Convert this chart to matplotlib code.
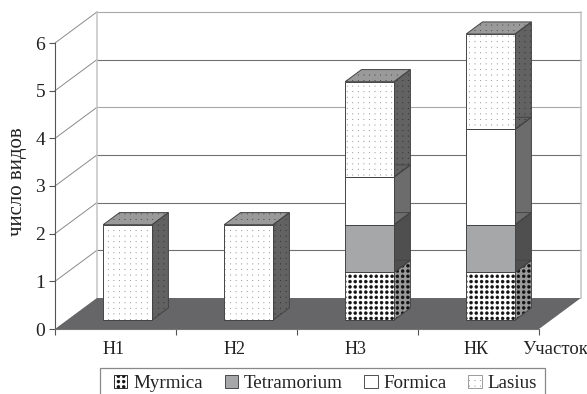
import matplotlib
matplotlib.use("Agg")
import numpy as np
import matplotlib.pyplot as plt
import matplotlib.hatch as mhatch
from matplotlib.patches import Patch, Polygon, Rectangle
from matplotlib.path import Path

plt.rcParams["font.family"] = ["Liberation Serif", "DejaVu Serif"]
plt.rcParams["hatch.linewidth"] = 0.3

sites = ["Н1", "Н2", "Н3", "НК"]
genera = ["Myrmica", "Tetramorium", "Formica", "Lasius"]
myrmica = [0, 0, 1, 1]
tetramorium = [0, 0, 1, 1]
formica = [0, 0, 1, 2]
lasius = [2, 2, 2, 2]
counts = [myrmica, tetramorium, formica, lasius]


# square grid of round dots, the stock circle hatches are staggered
class DotGrid(mhatch.HatchPatternBase):
    char = "."
    rows = 18
    radius = 0.003

    def __init__(self, hatch, density):
        self.on = self.char in (hatch or "")
        circle = Path.unit_circle()
        self.circle = circle
        self.num_vertices = self.rows ** 2 * len(circle.vertices) if self.on else 0

    def set_vertices_and_codes(self, vertices, codes):
        n = len(self.circle.vertices)
        pos = 0
        for r in range(self.rows):
            for c in range(self.rows):
                centre = (np.array([c, r]) + 0.5) / self.rows
                vertices[pos:pos + n] = self.circle.vertices * self.radius + centre
                codes[pos:pos + n] = self.circle.codes
                pos += n


class BigDotGrid(DotGrid):
    char = "O"
    rows = 19
    radius = 0.015


mhatch._hatch_types[:] = [DotGrid, BigDotGrid]

# front, side, top colours, hatch and hatch colours (front, side, top) for each genus
styles = {
    "Myrmica": ("#ffffff", "#9a9a9a", "#ffffff", "O", ("#111111", "#111111", "#111111")),
    "Tetramorium": ("#a6a7a9", "#4f4f4f", "#8a8a8a", None, (None, None, None)),
    "Formica": ("#ffffff", "#6c6c6c", "#9a9a9a", None, (None, None, None)),
    "Lasius": ("#ffffff", "#626262", "#9a9a9a", ".", ("#8c8c8c", "#2e2e2e", "#444444")),
}

# oblique projection: one depth unit shifts this far in data units
depth_x = 0.346
depth_y = 0.65
bar_width = 0.404
bar_front = 0.29
bar_back = 0.68

W, H = 587, 394
fig = plt.figure(figsize=(W / 100, H / 100), dpi=100)
ax = fig.add_axes([55 / W, 1 - 329 / H, (539 - 55) / W, (329 - 43) / H])
ax.set_xlim(0, 4)
ax.set_ylim(0, 6)
ax.patch.set_visible(False)
for name in ["top", "right"]:
    ax.spines[name].set_visible(False)
ax.spines["left"].set_color("#555555")
ax.spines["bottom"].set_color("#777777")


def proj(x, y, d):
    return (x + d * depth_x, y + d * depth_y)


def face(points, color, hatch=None, hatch_color=None, z=3):
    ax.add_patch(Polygon(points, closed=True, facecolor=color, edgecolor=hatch_color or color,
                         hatch=hatch, lw=0, zorder=z, clip_on=False))
    ax.add_patch(Polygon(points, closed=True, fill=False, edgecolor="#444444",
                         lw=0.7, zorder=z + 0.1, clip_on=False))


# walls and gridlines
for v in range(1, 7):
    color = "#a8a8a8" if v in (4, 6) else "#707070"
    x0, y0 = proj(0, v, 1)
    x1, y1 = proj(4, v, 1)
    ax.plot([0, x0], [v, y0], color="#8a8a8a", lw=0.7, clip_on=False, zorder=1)
    ax.plot([x0, x1], [y0, y1], color=color, lw=0.8, clip_on=False, zorder=1)
for xv in (0, 4):
    x0, y0 = proj(xv, 0, 1)
    x1, y1 = proj(xv, 6, 1)
    ax.plot([x0, x1], [y0, y1], color="#c4c4c4", lw=1.1, clip_on=False, zorder=1)

# floor
ax.add_patch(Polygon([proj(0, 0, 0), proj(0, 0, 1), proj(4, 0, 1), proj(4, 0, 0)], closed=True,
                     facecolor="#666668", edgecolor="none", zorder=2, clip_on=False))

# stacked boxes
for i in range(len(sites)):
    left = i + 0.5 - bar_width / 2
    right = i + 0.5 + bar_width / 2
    base = 0
    for genus, series in zip(genera, counts):
        v = series[i]
        if v == 0:
            continue
        top = base + v
        front, side, lid, hatch, hc = styles[genus]
        face([proj(right, base, bar_front), proj(right, base, bar_back),
              proj(right, top, bar_back), proj(right, top, bar_front)], side, hatch, hc[1])
        face([proj(left, top, bar_front), proj(right, top, bar_front),
              proj(right, top, bar_back), proj(left, top, bar_back)], lid, hatch, hc[2])
        face([proj(left, base, bar_front), proj(right, base, bar_front),
              proj(right, top, bar_front), proj(left, top, bar_front)], front, hatch, hc[0], z=3.5)
        base = top

ax.set_xticks(range(5))
ax.set_xticklabels([])
ax.set_xticks([i + 0.48 for i in range(4)], sites, minor=True)
ax.tick_params(axis="x", which="minor", length=0, labelsize=13, pad=9, colors="#222222")
ax.tick_params(axis="x", which="major", length=4, color="#555555")
ax.set_yticks(range(7))
ax.tick_params(axis="y", length=4, color="#555555", labelsize=14, labelcolor="#222222", pad=3)

ax.set_ylabel("число видов", fontsize=15, color="#222222")
ax.yaxis.set_label_coords(-0.057, 0.514)
ax.text(1.033, -0.072, "Участок", transform=ax.transAxes, fontsize=13.5, color="#222222",
        ha="center", va="center", clip_on=False)

# legend frame runs past the bottom edge of the figure
fig.add_artist(Rectangle((100 / W, -0.05), 445 / W, 1 - 368 / H + 0.05, transform=fig.transFigure,
                         facecolor="white", edgecolor="#888888", lw=0.9))
handles = []
for genus in genera:
    front, side, lid, hatch, hc = styles[genus]
    handles.append(Patch(facecolor=front, edgecolor=hc[0] or "#333333", hatch=hatch, lw=0.6))
fig.legend(handles, genera, loc="upper left", mode="expand", ncol=4, frameon=False,
           bbox_to_anchor=(114 / W, 1 - 375 / H, 423 / W, 0), borderaxespad=0, borderpad=0,
           fontsize=13.7, handlelength=0.7, handleheight=0.7, handletextpad=0.3,
           columnspacing=0.8, labelcolor="#222222")

fig.savefig("out.png", dpi=100)
